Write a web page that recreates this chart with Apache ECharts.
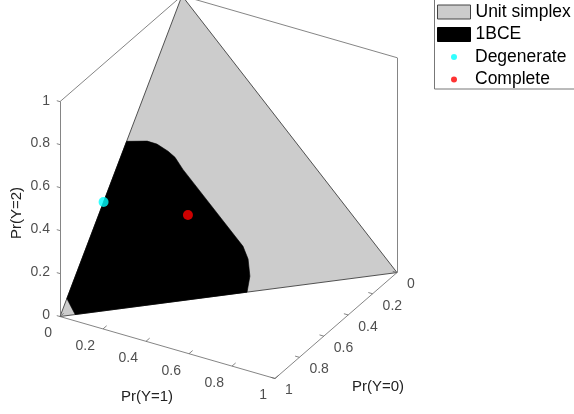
<!DOCTYPE html>
<html><head><meta charset="utf-8">
<script src="https://cdn.jsdelivr.net/npm/echarts@6/dist/echarts.min.js"></script>
<style>html,body{margin:0;padding:0;background:#fff}#c{width:574px;height:414px}</style>
</head><body><div id="c"></div>
<script>
// ---------- data ----------
const tickValues = [0, 0.2, 0.4, 0.6, 0.8, 1];
const tickLabels = ['0', '0.2', '0.4', '0.6', '0.8', '1'];
const axisTitles = ['Pr(Y=0)', 'Pr(Y=1)', 'Pr(Y=2)'];
const seriesNames = ['Unit simplex', '1BCE', 'Degenerate', 'Complete'];
// unit simplex vertices: Pr(Y=0), Pr(Y=1), Pr(Y=2)
const simplexP0 = [1, 0, 0];
const simplexP1 = [0, 1, 0];
const simplexP2 = [0, 0, 1];
// 1BCE region boundary
const bceP0 = [0.955, 0.944, 0.454, 0.398, 0.378, 0.363, 0.357, 0.361, 0.360, 0.373, 0.404, 0.445];
const bceP1 = [0.045, 0.000, 0.000, 0.064, 0.098, 0.141, 0.170, 0.209, 0.488, 0.519, 0.545, 0.555];
const bceP2 = [0.000, 0.056, 0.546, 0.538, 0.524, 0.496, 0.473, 0.430, 0.152, 0.108, 0.051, 0.000];
// points
const degenerate = [0.643, 0.000, 0.357];
const complete = [0.443, 0.279, 0.278];

// ---------- view (3-D -> 2-D projection of the axes) ----------
const VIEW = { e0: [-0.5674, -0.493], e1: [1.0, -0.2884], e2: [0, 1] };
function proj(p0, p1, p2) {
  return [p0 * VIEW.e0[0] + p1 * VIEW.e1[0] + p2 * VIEW.e2[0],
          p0 * VIEW.e0[1] + p1 * VIEW.e1[1] + p2 * VIEW.e2[1]];
}
const FONT = '"Liberation Sans", Arial, Helvetica, sans-serif';

const simplexPts = simplexP0.map((v, i) => proj(v, simplexP1[i], simplexP2[i]));
const bcePts = bceP0.map((v, i) => proj(v, bceP1[i], bceP2[i]));

// box edges / axis lines (in probability space)
const edges = [
  [[1, 0, 0], [1, 0, 1]],
  [[1, 0, 0], [1, 1, 0]],
  [[0, 1, 0], [1, 1, 0]],
  [[1, 0, 1], [0, 0, 1]],
  [[0, 0, 1], [0, 1, 1]],
  [[0, 1, 1], [0, 1, 0]]
];
const edgeData = edges.map(e => ({ coords: [proj(...e[0]), proj(...e[1])] }));

const TL = { z: 0.015, y1: 0.03, y0: 0.02 };
const tickData = [];
tickValues.forEach(t => {
  tickData.push({ coords: [proj(1, 0, t), proj(1, -TL.z, t)] });           // Pr(Y=2)
  tickData.push({ coords: [proj(1, t, 0), proj(1 - TL.y1, t, 0)] });       // Pr(Y=1)
  tickData.push({ coords: [proj(t, 1, 0), proj(t, 1 - TL.y0, 0)] });       // Pr(Y=0)
});

function labelSeries(points, align, offset) {
  return {
    type: 'scatter', symbolSize: 0, silent: true, z: 5,
    data: points.map((p, i) => ({ value: p, name: tickLabels[i] })),
    label: {
      show: true, position: 'inside', align: align, verticalAlign: 'middle',
      offset: offset, formatter: p => p.name,
      color: '#222', fontSize: 14, fontFamily: FONT
    }
  };
}

function polyRender(pts, fill, stroke, lw) {
  return function (params, api) {
    if (params.dataIndex !== 0) return;
    return {
      type: 'polygon',
      shape: { points: pts.map(p => api.coord(p)) },
      style: { fill: fill, stroke: stroke, lineWidth: lw }
    };
  };
}

const chart = echarts.init(document.getElementById('c'), null, { renderer: 'canvas' });
const legendBase = {
  orient: 'vertical', left: 437, itemWidth: 33, itemHeight: 14, itemGap: 0, padding: 0,
  selectedMode: false,
  textStyle: { fontSize: 17.5, fontFamily: FONT, color: '#000', lineHeight: 20 }
};
const dotText = { fontSize: 17.5, fontFamily: FONT, color: '#000', lineHeight: 20, padding: [0, 0, 0, 13] };
const option = {
  animation: false,
  backgroundColor: '#fff',
  grid: { left: 10, width: 430, top: 0, height: 404 },
  xAxis: { type: 'value', min: -0.8, max: 1.2, show: false },
  yAxis: { type: 'value', min: -0.9, max: 0.98, show: false },
  legend: [
    Object.assign({}, legendBase, { top: 2, data: [{ name: seriesNames[0], icon: 'rect', itemStyle: { color: '#cccccc', borderColor: '#444', borderWidth: 1 } }] }),
    Object.assign({}, legendBase, { top: 24.5, data: [{ name: seriesNames[1], icon: 'rect', itemStyle: { color: '#000', borderColor: '#000', borderWidth: 1 } }] }),
    Object.assign({}, legendBase, { top: 47, left: 451, itemWidth: 6, itemHeight: 6, textStyle: dotText, data: [{ name: seriesNames[2], icon: 'circle', itemStyle: { color: '#00ffff', borderWidth: 0 } }] }),
    Object.assign({}, legendBase, { top: 69.5, left: 451, itemWidth: 6, itemHeight: 6, textStyle: dotText, data: [{ name: seriesNames[3], icon: 'circle', itemStyle: { color: '#ff0000', borderWidth: 0 } }] })
  ],
  graphic: [
    { type: 'rect', shape: { x: 434.5, y: -2, width: 150, height: 91 }, style: { fill: 'none', stroke: '#777', lineWidth: 1 }, z: 10 },
    { type: 'text', x: 17, y: 213, rotation: Math.PI / 2, style: { text: axisTitles[2], font: '15px ' + FONT, fill: '#222', align: 'center', verticalAlign: 'middle' } },
    { type: 'text', x: 147, y: 397, style: { text: axisTitles[1], font: '15px ' + FONT, fill: '#222', align: 'center', verticalAlign: 'middle' } },
    { type: 'text', x: 378, y: 387, style: { text: axisTitles[0], font: '15px ' + FONT, fill: '#222', align: 'center', verticalAlign: 'middle' } }
  ],
  series: [
    {
      name: seriesNames[0], type: 'custom', z: 1, silent: true,
      data: simplexPts, encode: { x: 0, y: 1 },
      itemStyle: { color: '#cccccc' },
      renderItem: polyRender(simplexPts, '#cccccc', '#404040', 0.9)
    },
    {
      name: seriesNames[1], type: 'custom', z: 2, silent: true,
      data: bcePts, encode: { x: 0, y: 1 },
      itemStyle: { color: '#000' },
      renderItem: polyRender(bcePts, '#000000', '#000000', 0.6)
    },
    {
      type: 'lines', coordinateSystem: 'cartesian2d', z: 3, silent: true,
      lineStyle: { color: '#666', width: 0.8, opacity: 1 },
      data: edgeData
    },
    {
      type: 'lines', coordinateSystem: 'cartesian2d', z: 3, silent: true,
      lineStyle: { color: '#666', width: 0.8, opacity: 1 },
      data: tickData
    },
    labelSeries(tickValues.map(t => proj(1, 0, t)), 'right', [-10, -1]),
    labelSeries(tickValues.map(t => proj(1, t, 0)), 'right', [-8, 17]),
    labelSeries(tickValues.map(t => proj(t, 1, 0)), 'left', [10, 12]),
    {
      name: seriesNames[2], type: 'scatter', z: 4, symbol: 'circle', symbolSize: 10,
      itemStyle: { color: '#00ffff' },
      data: [proj(...degenerate)]
    },
    {
      name: seriesNames[3], type: 'scatter', z: 4, symbol: 'circle', symbolSize: 10,
      itemStyle: { color: '#ff0000' },
      data: [proj(...complete)]
    }
  ]
};
chart.setOption(option);
</script>
</body></html>
